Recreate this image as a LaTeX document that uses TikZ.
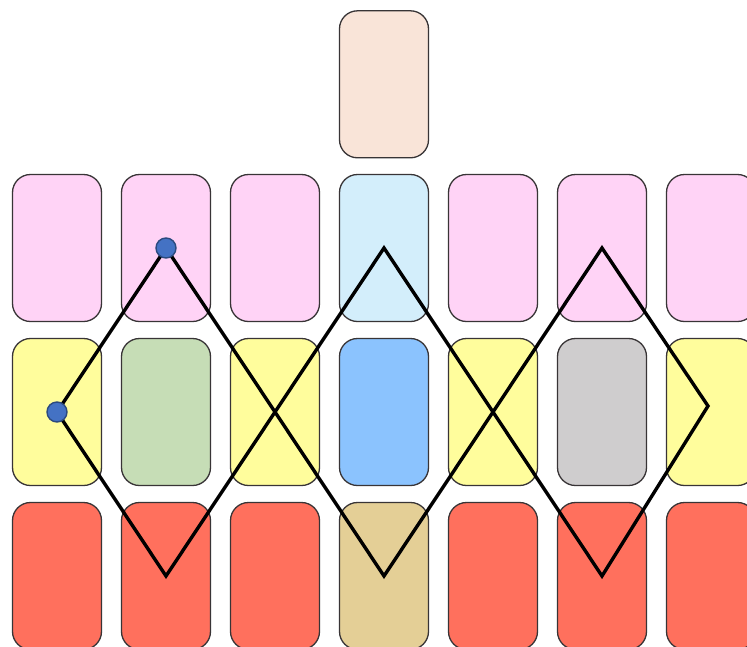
\documentclass[tikz,border=0pt]{standalone}
\usepackage{tikz}
\usepackage{xcolor}
\usetikzlibrary{positioning}
\definecolor{edge}{HTML}{383436}
\definecolor{rose}{HTML}{FFD3F6}
\definecolor{sky}{HTML}{D3EEFB}
\definecolor{peach}{HTML}{F9E4D8}
\definecolor{lemon}{HTML}{FFFD9C}
\definecolor{sage}{HTML}{C6DDB6}
\definecolor{azure}{HTML}{8BC3FE}
\definecolor{ash}{HTML}{CFCDCE}
\definecolor{coral}{HTML}{FF705D}
\definecolor{sand}{HTML}{E4CF96}
\definecolor{dotblue}{HTML}{4472C4}
\tikzset{
  card/.style={draw=edge,fill=#1,line width=1.3pt,rounded corners=18pt,minimum width=89pt,minimum height=147pt,inner sep=0pt},
  route/.style={draw=black,line width=3.4pt},
  dot/.style={circle,fill=dotblue,draw=dotblue!65!black,line width=1.4pt,minimum size=20pt,inner sep=0pt}
}
\begin{document}
\begin{tikzpicture}[x=1pt,y=-1pt,node distance=18.7pt]
    \useasboundingbox[fill=white] (0,0) rectangle (747,646);
    \clip (0,0) rectangle (747,646);

    % first row
    \node[card=rose] (a1) at (57,248) {};
    \node[card=rose,right=of a1] (a2) {};
    \node[card=rose,right=of a2] (a3) {};
    \node[card=sky,right=of a3] (a4) {};
    \node[card=rose,right=of a4] (a5) {};
    \node[card=rose,right=of a5] (a6) {};
    \node[card=rose,right=of a6] (a7) {};
    \node[card=peach,above=15.4pt of a4] (top) {};

    % second row
    \node[card=lemon,below=15.7pt of a1] (b1) {};
    \node[card=sage,right=of b1] (b2) {};
    \node[card=lemon,right=of b2] (b3) {};
    \node[card=azure,right=of b3] (b4) {};
    \node[card=lemon,right=of b4] (b5) {};
    \node[card=ash,right=of b5] (b6) {};
    \node[card=lemon,right=of b6] (b7) {};

    % third row
    \node[card=coral,below=15.7pt of b1] (c1) {};
    \node[card=coral,right=of c1] (c2) {};
    \node[card=coral,right=of c2] (c3) {};
    \node[card=sand,right=of c3] (c4) {};
    \node[card=coral,right=of c4] (c5) {};
    \node[card=coral,right=of c5] (c6) {};
    \node[card=coral,right=of c6] (c7) {};

    \draw[route] (b1.center) -- (a2.center) -- (c4.center) -- (a6.center) -- ([xshift=-3pt,yshift=6pt]b7.center)
      -- (c6.center) -- (a4.center) -- (c2.center) -- cycle;

    \node[dot] (start) at (b1.center) {};
    \node[dot] (peak) at (a2.center) {};
  \end{tikzpicture}
\end{document}
